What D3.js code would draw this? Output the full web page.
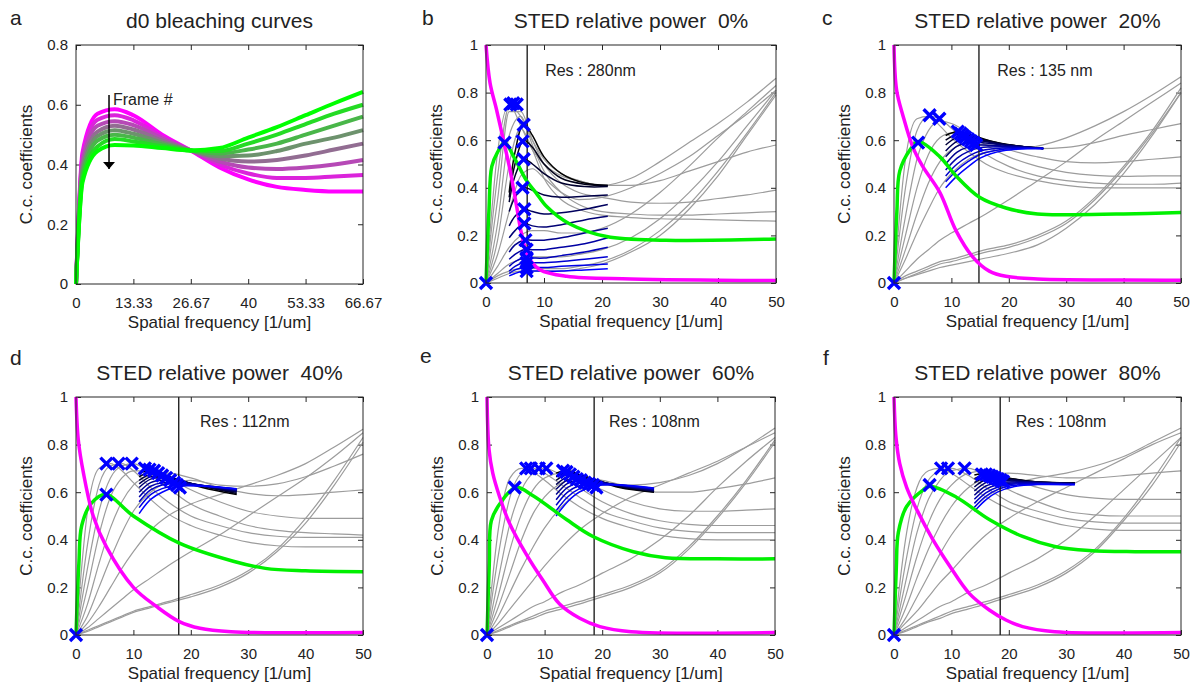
<!DOCTYPE html>
<html>
<head>
<meta charset="utf-8">
<script src="https://cdn.jsdelivr.net/npm/d3@7"></script>
<style>
body { margin: 0; background: #fff; }
svg text { font-family: "Liberation Sans", Arial, Helvetica, sans-serif; fill: #222; }
</style>
</head>
<body>
<svg id="chart" width="1192" height="688"></svg>
<script>
// ---- panel a : d0 bleaching curves ----
var aX = [0, 1.5, 5, 9, 13.33, 20, 26.67, 33.33, 40, 46.67, 53.33, 60, 66.67];
var aFrames = [
	[0, 0.44, 0.57, 0.585, 0.565, 0.50, 0.447, 0.39, 0.35, 0.325, 0.315, 0.31, 0.31],
	[0, 0.425, 0.55, 0.565, 0.548, 0.493, 0.447, 0.40, 0.37, 0.355, 0.355, 0.36, 0.365],
	[0, 0.41, 0.53, 0.545, 0.532, 0.487, 0.447, 0.41, 0.39, 0.385, 0.39, 0.40, 0.415],
	[0, 0.395, 0.51, 0.53, 0.517, 0.48, 0.447, 0.42, 0.41, 0.415, 0.43, 0.45, 0.47],
	[0, 0.38, 0.495, 0.515, 0.503, 0.473, 0.447, 0.428, 0.43, 0.445, 0.47, 0.49, 0.515],
	[0, 0.365, 0.48, 0.50, 0.49, 0.467, 0.447, 0.437, 0.45, 0.47, 0.50, 0.53, 0.56],
	[0, 0.35, 0.46, 0.485, 0.477, 0.461, 0.447, 0.445, 0.47, 0.50, 0.535, 0.57, 0.60],
	[0, 0.34, 0.445, 0.465, 0.464, 0.455, 0.447, 0.455, 0.49, 0.525, 0.565, 0.605, 0.643]
];
var aXTicks = [0, 13.33, 26.67, 40, 53.33, 66.67];
var aXTickLabels = ["0", "13.33", "26.67", "40", "53.33", "66.67"];
var aYTicks = [0, 0.2, 0.4, 0.6, 0.8];

// ---- panels b-f : STED relative power ----
var stedXTicks = [0, 10, 20, 30, 40, 50];
var stedYTicks = [0, 0.2, 0.4, 0.6, 0.8, 1];
var stedPowers = ["0%", "20%", "40%", "60%", "80%"];
var resFreq = [7.1, 14.8, 17.9, 18.6, 18.5];
var resLabels = ["Res : 280nm", "Res : 135 nm", "Res : 112nm", "Res : 108nm", "Res : 108nm"];

var grayX = [0, 2, 4, 6, 8, 10, 13, 16, 20, 25, 30, 35, 40, 45, 50];

var bGray = [
	[0, 0.55, 0.75, 0.66, 0.56, 0.50, 0.45, 0.43, 0.41, 0.44, 0.51, 0.59, 0.67, 0.76, 0.86],
	[0, 0.45, 0.74, 0.70, 0.60, 0.52, 0.46, 0.43, 0.41, 0.41, 0.43, 0.47, 0.51, 0.55, 0.58],
	[0, 0.35, 0.72, 0.72, 0.60, 0.50, 0.42, 0.38, 0.36, 0.34, 0.335, 0.34, 0.355, 0.37, 0.39],
	[0, 0.25, 0.62, 0.70, 0.58, 0.47, 0.38, 0.33, 0.30, 0.29, 0.285, 0.285, 0.29, 0.295, 0.30],
	[0, 0.18, 0.50, 0.65, 0.56, 0.44, 0.35, 0.31, 0.285, 0.275, 0.27, 0.268, 0.265, 0.262, 0.26],
	[0, 0.12, 0.30, 0.45, 0.48, 0.44, 0.38, 0.35, 0.36, 0.40, 0.46, 0.53, 0.62, 0.71, 0.81],
	[0, 0.07, 0.15, 0.20, 0.22, 0.22, 0.21, 0.21, 0.23, 0.29, 0.38, 0.49, 0.61, 0.72, 0.83],
	[0, 0.04, 0.08, 0.10, 0.11, 0.11, 0.11, 0.12, 0.14, 0.19, 0.27, 0.38, 0.51, 0.66, 0.81],
	[0, 0.03, 0.05, 0.06, 0.06, 0.06, 0.06, 0.07, 0.09, 0.14, 0.22, 0.33, 0.47, 0.63, 0.80],
	[0, 0.02, 0.04, 0.05, 0.05, 0.05, 0.05, 0.06, 0.08, 0.13, 0.20, 0.31, 0.45, 0.62, 0.79]
];
var cGray = [
	[0, 0.52, 0.69, 0.70, 0.66, 0.61, 0.55, 0.50, 0.46, 0.43, 0.41, 0.40, 0.40, 0.40, 0.40],
	[0, 0.40, 0.64, 0.70, 0.69, 0.65, 0.59, 0.54, 0.49, 0.45, 0.43, 0.42, 0.415, 0.415, 0.42],
	[0, 0.28, 0.52, 0.64, 0.68, 0.67, 0.63, 0.58, 0.53, 0.49, 0.465, 0.452, 0.448, 0.45, 0.45],
	[0, 0.20, 0.40, 0.54, 0.61, 0.63, 0.62, 0.60, 0.56, 0.53, 0.51, 0.505, 0.51, 0.52, 0.53],
	[0, 0.14, 0.29, 0.42, 0.51, 0.56, 0.585, 0.58, 0.57, 0.565, 0.57, 0.59, 0.62, 0.645, 0.67],
	[0, 0.10, 0.21, 0.31, 0.40, 0.46, 0.52, 0.55, 0.56, 0.575, 0.61, 0.66, 0.72, 0.79, 0.867],
	[0, 0.05, 0.10, 0.14, 0.18, 0.21, 0.25, 0.29, 0.35, 0.43, 0.51, 0.60, 0.68, 0.76, 0.84],
	[0, 0.03, 0.05, 0.07, 0.09, 0.10, 0.12, 0.14, 0.16, 0.20, 0.26, 0.36, 0.49, 0.64, 0.82],
	[0, 0.02, 0.04, 0.06, 0.08, 0.09, 0.11, 0.13, 0.15, 0.19, 0.25, 0.35, 0.48, 0.63, 0.80],
	[0, 0.02, 0.035, 0.05, 0.065, 0.075, 0.09, 0.105, 0.125, 0.16, 0.23, 0.33, 0.46, 0.62, 0.80]
];
var dGray = [
	[0, 0.52, 0.70, 0.72, 0.69, 0.64, 0.57, 0.51, 0.46, 0.42, 0.39, 0.375, 0.37, 0.37, 0.37],
	[0, 0.38, 0.63, 0.71, 0.72, 0.69, 0.62, 0.56, 0.50, 0.46, 0.43, 0.415, 0.41, 0.41, 0.41],
	[0, 0.28, 0.52, 0.66, 0.71, 0.72, 0.68, 0.62, 0.55, 0.50, 0.46, 0.44, 0.43, 0.425, 0.42],
	[0, 0.20, 0.42, 0.58, 0.66, 0.69, 0.69, 0.66, 0.61, 0.56, 0.52, 0.50, 0.49, 0.49, 0.49],
	[0, 0.13, 0.30, 0.45, 0.56, 0.63, 0.67, 0.68, 0.66, 0.62, 0.595, 0.585, 0.59, 0.60, 0.61],
	[0, 0.08, 0.20, 0.32, 0.43, 0.52, 0.60, 0.64, 0.65, 0.63, 0.625, 0.635, 0.665, 0.71, 0.76],
	[0, 0.05, 0.12, 0.20, 0.28, 0.35, 0.44, 0.50, 0.55, 0.59, 0.63, 0.67, 0.72, 0.79, 0.865],
	[0, 0.03, 0.07, 0.11, 0.15, 0.19, 0.24, 0.29, 0.35, 0.42, 0.50, 0.58, 0.66, 0.75, 0.85],
	[0, 0.02, 0.04, 0.06, 0.08, 0.10, 0.12, 0.14, 0.17, 0.21, 0.27, 0.36, 0.49, 0.65, 0.83],
	[0, 0.015, 0.035, 0.055, 0.075, 0.095, 0.115, 0.135, 0.16, 0.20, 0.26, 0.35, 0.47, 0.63, 0.81]
];
var eGray = [
	[0, 0.45, 0.66, 0.70, 0.685, 0.65, 0.59, 0.54, 0.49, 0.45, 0.42, 0.405, 0.40, 0.40, 0.40],
	[0, 0.34, 0.58, 0.68, 0.70, 0.68, 0.63, 0.58, 0.52, 0.48, 0.45, 0.435, 0.43, 0.43, 0.43],
	[0, 0.24, 0.47, 0.61, 0.68, 0.70, 0.67, 0.62, 0.56, 0.51, 0.48, 0.465, 0.46, 0.46, 0.46],
	[0, 0.17, 0.36, 0.51, 0.61, 0.66, 0.68, 0.66, 0.61, 0.56, 0.53, 0.52, 0.52, 0.525, 0.53],
	[0, 0.12, 0.26, 0.40, 0.51, 0.58, 0.64, 0.66, 0.65, 0.62, 0.60, 0.60, 0.615, 0.635, 0.66],
	[0, 0.08, 0.18, 0.28, 0.37, 0.45, 0.54, 0.60, 0.63, 0.63, 0.64, 0.67, 0.72, 0.79, 0.87],
	[0, 0.05, 0.11, 0.17, 0.23, 0.29, 0.37, 0.44, 0.51, 0.58, 0.63, 0.68, 0.73, 0.79, 0.85],
	[0, 0.03, 0.06, 0.09, 0.12, 0.14, 0.18, 0.21, 0.26, 0.32, 0.40, 0.50, 0.62, 0.73, 0.83],
	[0, 0.02, 0.04, 0.06, 0.08, 0.10, 0.12, 0.14, 0.17, 0.21, 0.27, 0.37, 0.50, 0.65, 0.82],
	[0, 0.015, 0.035, 0.055, 0.07, 0.09, 0.11, 0.13, 0.16, 0.20, 0.26, 0.36, 0.49, 0.64, 0.81]
];
var fGray = [
	[0, 0.40, 0.62, 0.69, 0.70, 0.68, 0.63, 0.58, 0.53, 0.49, 0.46, 0.445, 0.44, 0.44, 0.44],
	[0, 0.30, 0.53, 0.65, 0.69, 0.70, 0.67, 0.62, 0.56, 0.52, 0.49, 0.475, 0.47, 0.47, 0.47],
	[0, 0.22, 0.43, 0.57, 0.65, 0.69, 0.70, 0.67, 0.61, 0.56, 0.52, 0.505, 0.50, 0.50, 0.50],
	[0, 0.16, 0.33, 0.47, 0.57, 0.63, 0.68, 0.69, 0.66, 0.62, 0.59, 0.575, 0.57, 0.57, 0.57],
	[0, 0.11, 0.24, 0.36, 0.46, 0.54, 0.62, 0.66, 0.68, 0.67, 0.66, 0.66, 0.67, 0.68, 0.69],
	[0, 0.07, 0.16, 0.25, 0.34, 0.42, 0.51, 0.58, 0.63, 0.66, 0.68, 0.71, 0.75, 0.81, 0.87],
	[0, 0.05, 0.10, 0.16, 0.22, 0.27, 0.35, 0.42, 0.49, 0.56, 0.62, 0.68, 0.74, 0.80, 0.85],
	[0, 0.03, 0.06, 0.09, 0.12, 0.14, 0.18, 0.21, 0.26, 0.32, 0.40, 0.50, 0.61, 0.72, 0.83],
	[0, 0.02, 0.04, 0.06, 0.08, 0.10, 0.12, 0.14, 0.17, 0.21, 0.27, 0.36, 0.49, 0.65, 0.83],
	[0, 0.015, 0.035, 0.055, 0.07, 0.09, 0.11, 0.13, 0.16, 0.20, 0.26, 0.35, 0.48, 0.63, 0.81]
];

// dark (black -> blue) curves, top to bottom
var bBlueX = [4, 5, 6.5, 8, 10, 13, 17, 21];
var bBlue = [
	[0.38, 0.55, 0.67, 0.62, 0.53, 0.46, 0.42, 0.41],
	[0.36, 0.50, 0.60, 0.57, 0.50, 0.44, 0.415, 0.41],
	[0.34, 0.45, 0.52, 0.50, 0.46, 0.42, 0.405, 0.405],
	[0.30, 0.36, 0.40, 0.39, 0.37, 0.36, 0.365, 0.37],
	[0.24, 0.28, 0.31, 0.30, 0.29, 0.295, 0.31, 0.33],
	[0.19, 0.22, 0.25, 0.24, 0.235, 0.245, 0.265, 0.28],
	[0.13, 0.16, 0.18, 0.18, 0.18, 0.19, 0.21, 0.23],
	[0.10, 0.12, 0.14, 0.14, 0.14, 0.15, 0.165, 0.19],
	[0.07, 0.09, 0.105, 0.105, 0.105, 0.115, 0.13, 0.15],
	[0.05, 0.07, 0.085, 0.085, 0.085, 0.09, 0.10, 0.11],
	[0.04, 0.055, 0.065, 0.065, 0.065, 0.07, 0.075, 0.08],
	[0.03, 0.04, 0.05, 0.05, 0.05, 0.05, 0.055, 0.06]
];
var cBlueX = [9, 11, 13, 15, 19, 26];
var cBlue = [
	[0.62, 0.635, 0.625, 0.61, 0.585, 0.565],
	[0.60, 0.625, 0.62, 0.607, 0.584, 0.565],
	[0.58, 0.612, 0.613, 0.603, 0.583, 0.565],
	[0.555, 0.595, 0.603, 0.598, 0.582, 0.565],
	[0.53, 0.575, 0.59, 0.59, 0.58, 0.565],
	[0.50, 0.55, 0.572, 0.58, 0.576, 0.565],
	[0.475, 0.525, 0.553, 0.568, 0.572, 0.565],
	[0.45, 0.50, 0.533, 0.555, 0.567, 0.565],
	[0.425, 0.475, 0.512, 0.54, 0.562, 0.565],
	[0.40, 0.45, 0.49, 0.525, 0.556, 0.565]
];
var dBlueX = [11, 13, 15, 18, 22, 28];
var dBlue = [
	[0.68, 0.69, 0.675, 0.65, 0.62, 0.59],
	[0.665, 0.685, 0.675, 0.65, 0.625, 0.595],
	[0.65, 0.675, 0.67, 0.65, 0.625, 0.60],
	[0.635, 0.665, 0.665, 0.648, 0.627, 0.603],
	[0.62, 0.655, 0.66, 0.645, 0.628, 0.606],
	[0.60, 0.64, 0.65, 0.642, 0.628, 0.608],
	[0.58, 0.625, 0.64, 0.638, 0.628, 0.61],
	[0.56, 0.61, 0.63, 0.635, 0.628, 0.612],
	[0.535, 0.59, 0.615, 0.63, 0.627, 0.613],
	[0.51, 0.57, 0.60, 0.625, 0.625, 0.615]
];
var eBlueX = [12, 14, 16, 19, 23, 29];
var eBlue = [
	[0.68, 0.69, 0.675, 0.65, 0.62, 0.60],
	[0.665, 0.683, 0.673, 0.65, 0.623, 0.602],
	[0.65, 0.675, 0.67, 0.65, 0.625, 0.604],
	[0.632, 0.665, 0.665, 0.648, 0.627, 0.606],
	[0.612, 0.652, 0.658, 0.646, 0.628, 0.608],
	[0.59, 0.637, 0.65, 0.643, 0.629, 0.61],
	[0.568, 0.62, 0.64, 0.64, 0.63, 0.612],
	[0.545, 0.60, 0.627, 0.636, 0.63, 0.614],
	[0.522, 0.58, 0.614, 0.632, 0.63, 0.616],
	[0.50, 0.56, 0.60, 0.627, 0.63, 0.618]
];
var fBlueX = [14, 16, 18, 21, 25, 31.5];
var fBlue = [
	[0.672, 0.68, 0.67, 0.655, 0.643, 0.64],
	[0.657, 0.673, 0.667, 0.654, 0.643, 0.639],
	[0.64, 0.664, 0.662, 0.652, 0.643, 0.638],
	[0.622, 0.653, 0.656, 0.65, 0.642, 0.637],
	[0.605, 0.64, 0.649, 0.647, 0.641, 0.636],
	[0.587, 0.626, 0.64, 0.643, 0.64, 0.635],
	[0.57, 0.612, 0.631, 0.639, 0.638, 0.634],
	[0.553, 0.597, 0.621, 0.634, 0.636, 0.633],
	[0.537, 0.583, 0.611, 0.629, 0.634, 0.632],
	[0.52, 0.568, 0.60, 0.624, 0.632, 0.631]
];

// magenta and green curves
var bMagX = [0, 0.7, 1.8, 3, 4.1, 5.3, 6.1, 7.3, 9.3, 13.9, 25, 50];
var bMagY = [1, 0.84, 0.73, 0.6, 0.48, 0.32, 0.21, 0.11, 0.056, 0.028, 0.017, 0.01];
var bGreenX = [0, 0.5, 1, 2, 3.2, 5, 7, 8.6, 10.5, 14.3, 20.8, 31, 50];
var bGreenY = [0, 0.3, 0.49, 0.55, 0.59, 0.52, 0.43, 0.38, 0.32, 0.25, 0.195, 0.18, 0.185];
var cMagX = [0, 0.46, 1.6, 3.3, 5, 8, 10.8, 13.7, 16.6, 19.5, 25, 50];
var cMagY = [1, 0.81, 0.70, 0.57, 0.49, 0.38, 0.22, 0.11, 0.05, 0.028, 0.017, 0.012];
var cGreenX = [0, 0.5, 1, 2.8, 4.2, 8, 10.8, 14.9, 19.5, 25, 31, 40, 50];
var cGreenY = [0, 0.3, 0.47, 0.56, 0.594, 0.53, 0.45, 0.36, 0.315, 0.29, 0.287, 0.29, 0.296];
var dMagX = [0, 0.4, 1.3, 3, 5.3, 10, 14, 18, 21.6, 27, 50];
var dMagY = [1, 0.82, 0.68, 0.50, 0.37, 0.20, 0.12, 0.056, 0.028, 0.014, 0.01];
var dGreenX = [0, 0.5, 1, 2.7, 5.2, 10, 18, 27.4, 33, 40, 50];
var dGreenY = [0, 0.3, 0.46, 0.554, 0.59, 0.50, 0.386, 0.31, 0.28, 0.27, 0.266];
var eMagX = [0, 0.35, 1, 2.2, 3.9, 6.8, 9.7, 12.6, 16.1, 19.6, 25, 50];
var eMagY = [1, 0.78, 0.68, 0.58, 0.47, 0.34, 0.23, 0.13, 0.07, 0.035, 0.014, 0.01];
var eGreenX = [0, 0.4, 0.75, 2.2, 5, 8, 13.8, 18.4, 25.4, 31, 40, 50];
var eGreenY = [0, 0.3, 0.48, 0.55, 0.62, 0.585, 0.485, 0.414, 0.35, 0.325, 0.32, 0.32];
var fMagX = [0, 0.35, 1, 2.2, 3.9, 6.8, 9.7, 13.1, 16.6, 19.5, 22.4, 28, 50];
var fMagY = [1, 0.83, 0.72, 0.62, 0.53, 0.40, 0.29, 0.175, 0.105, 0.063, 0.035, 0.014, 0.01];
var fGreenX = [0, 0.4, 0.75, 2.2, 5.1, 6.3, 10.8, 16.6, 22.4, 28, 34, 42, 50];
var fGreenY = [0, 0.28, 0.43, 0.54, 0.61, 0.625, 0.58, 0.485, 0.414, 0.372, 0.355, 0.35, 0.35];

// blue x markers
var bMarkX = [0, 3.2, 4.2, 4.7, 5.3, 6.5, 6.3, 6.5, 6.3, 6.6, 6.6, 6.8, 7, 7, 7, 7, 7];
var bMarkY = [0, 0.59, 0.75, 0.755, 0.75, 0.665, 0.595, 0.52, 0.40, 0.31, 0.25, 0.18, 0.14, 0.105, 0.085, 0.065, 0.05];
var cMarkX = [0, 4.2, 6.2, 7.9, 11.1, 11.6, 12.0, 12.4, 12.9, 13.4, 13.9, 14.3];
var cMarkY = [0, 0.59, 0.705, 0.69, 0.636, 0.628, 0.62, 0.612, 0.604, 0.596, 0.588, 0.58];
var dMarkX = [0, 5.3, 5.3, 7.4, 9.7, 12, 12.8, 13.6, 14.3, 15, 15.7, 16.4, 17.1, 17.6, 18.1];
var dMarkY = [0, 0.59, 0.72, 0.72, 0.72, 0.70, 0.695, 0.69, 0.68, 0.67, 0.66, 0.65, 0.64, 0.63, 0.62];
var eMarkX = [0, 4.8, 6.8, 7.6, 9.0, 10.3, 13.2, 13.8, 14.4, 15, 15.6, 16.3, 17, 17.7, 18.4, 19];
var eMarkY = [0, 0.62, 0.70, 0.70, 0.70, 0.70, 0.69, 0.685, 0.675, 0.665, 0.655, 0.65, 0.64, 0.635, 0.63, 0.62];
var fMarkX = [0, 6.2, 8.2, 9.4, 12.3, 15.3, 16, 16.6, 17.1, 17.6, 18.1, 18.6, 19];
var fMarkY = [0, 0.63, 0.70, 0.70, 0.70, 0.675, 0.675, 0.67, 0.665, 0.66, 0.655, 0.65, 0.645];

var svg = d3.select('#chart');

function zipXY(xs, ys){
	return xs.map(function(x, i){ return [x, ys[i]]; });
};

function makeFrame(box, xDomain, yDomain, xTicks, xLabels, yTicks){
	var w = box[2] - box[0], h = box[3] - box[1];
	var g = svg.append('g').attr('transform', 'translate(' + box[0] + ',' + box[1] + ')');
	var x = d3.scaleLinear().domain(xDomain).range([0, w]);
	var y = d3.scaleLinear().domain(yDomain).range([h, 0]);

	var bottom = g.append('g')
			.attr('transform', 'translate(0,' + h + ')')
			.call(d3.axisBottom(x).tickValues(xTicks).tickSizeInner(-5).tickSizeOuter(0).tickPadding(13)
				.tickFormat(function(d, i){ return xLabels[i]; }));
	var left = g.append('g')
			.call(d3.axisLeft(y).tickValues(yTicks).tickSizeInner(-5).tickSizeOuter(0).tickPadding(8)
				.tickFormat(d3.format('~g')));
	var top = g.append('g')
			.call(d3.axisTop(x).tickValues(xTicks).tickSizeInner(-5).tickSizeOuter(0).tickFormat(''));
	var right = g.append('g')
			.attr('transform', 'translate(' + w + ',0)')
			.call(d3.axisRight(y).tickValues(yTicks).tickSizeInner(-5).tickSizeOuter(0).tickFormat(''));

	[bottom, left, top, right].forEach(function(a){
		a.select('.domain').remove();
		a.selectAll('line').attr('stroke', '#262626');
		a.selectAll('text').style('font-size', '15px').attr('fill', '#222');
	});

	var plot = g.append('g');

	g.append('rect')
		.attr('width', w).attr('height', h)
		.attr('fill', 'none').attr('stroke', '#262626').attr('stroke-width', 1);

	g.append('text')
		.attr('x', w / 2).attr('y', h + 44)
		.attr('text-anchor', 'middle')
		.style('font-size', '17px')
		.text('Spatial frequency [1/um]');

	g.append('text')
		.attr('transform', 'translate(-44,' + h / 2 + ') rotate(-90)')
		.attr('text-anchor', 'middle')
		.style('font-size', '17px')
		.text('C.c. coefficients');

	return {g: g, plot: plot, x: x, y: y, w: w, h: h};
};

function addTitle(f, title, letter, lx, ly){
	f.g.append('text')
		.attr('x', f.w / 2).attr('y', -17)
		.attr('text-anchor', 'middle')
		.attr('xml:space', 'preserve')
		.style('white-space', 'pre')
		.style('font-size', '21px')
		.attr('fill', '#111')
		.text(title);
	svg.append('text')
		.attr('x', lx).attr('y', ly)
		.style('font-size', '21px')
		.attr('fill', '#111')
		.text(letter);
};

// ---- panel a ----
var fa = makeFrame([76, 45, 363, 284], [0, 66.67], [0, 0.8], aXTicks, aXTickLabels, aYTicks);
addTitle(fa, 'd0 bleaching curves', 'a', 10, 25);

var frameColor = d3.interpolateRgb('#ff00ff', '#00ff00');
var aLine = d3.line()
		.x(function(d){ return fa.x(d[0]); })
		.y(function(d){ return fa.y(d[1]); })
		.curve(d3.curveMonotoneX);

fa.plot.selectAll('path.frame')
		.data(aFrames)
		.enter()
		.append('path')
		.attr('class', 'frame')
		.attr('d', function(d){ return aLine(zipXY(aX, d)); })
		.attr('fill', 'none')
		.attr('stroke-width', 4)
		.attr('stroke', function(d, i){ return frameColor(i / (aFrames.length - 1)); });

// frame # arrow
fa.g.append('defs').append('marker')
		.attr('id', 'arrowhead')
		.attr('viewBox', '0 0 10 10')
		.attr('refX', 10).attr('refY', 5)
		.attr('markerWidth', 7).attr('markerHeight', 12)
		.attr('markerUnits', 'userSpaceOnUse')
		.attr('orient', 'auto')
		.attr('preserveAspectRatio', 'none')
		.append('path').attr('d', 'M0,0L10,5L0,10Z').attr('fill', '#000');
fa.g.append('line')
		.attr('x1', fa.x(7.67)).attr('x2', fa.x(7.67))
		.attr('y1', fa.y(0.633)).attr('y2', fa.y(0.385))
		.attr('stroke', '#000').attr('stroke-width', 1.5)
		.attr('marker-end', 'url(#arrowhead)');
fa.g.append('text')
		.attr('x', fa.x(7.67) + 4).attr('y', fa.y(0.6))
		.style('font-size', '16px')
		.text('Frame #');

// ---- panels b-f ----
var stedPanels = [
	{box: [486, 45, 776, 283], letter: 'b', lx: 422, ly: 25, gray: bGray, blueX: bBlueX, blue: bBlue,
		mag: zipXY(bMagX, bMagY), green: zipXY(bGreenX, bGreenY), marks: zipXY(bMarkX, bMarkY), resAt: [10.2, 0.87]},
	{box: [894, 45, 1181, 283], letter: 'c', lx: 822, ly: 25, gray: cGray, blueX: cBlueX, blue: cBlue,
		mag: zipXY(cMagX, cMagY), green: zipXY(cGreenX, cGreenY), marks: zipXY(cMarkX, cMarkY), resAt: [18, 0.87]},
	{box: [76, 397, 363, 635], letter: 'd', lx: 10, ly: 365, gray: dGray, blueX: dBlueX, blue: dBlue,
		mag: zipXY(dMagX, dMagY), green: zipXY(dGreenX, dGreenY), marks: zipXY(dMarkX, dMarkY), resAt: [21.6, 0.875]},
	{box: [487, 397, 775, 635], letter: 'e', lx: 420, ly: 363, gray: eGray, blueX: eBlueX, blue: eBlue,
		mag: zipXY(eMagX, eMagY), green: zipXY(eGreenX, eGreenY), marks: zipXY(eMarkX, eMarkY), resAt: [21.2, 0.875]},
	{box: [894, 397, 1181, 635], letter: 'f', lx: 823, ly: 365, gray: fGray, blueX: fBlueX, blue: fBlue,
		mag: zipXY(fMagX, fMagY), green: zipXY(fGreenX, fGreenY), marks: zipXY(fMarkX, fMarkY), resAt: [21.2, 0.875]}
];

var blueColor = d3.interpolateRgb('#000000', '#0000ff');

stedPanels.forEach(function(p, k){
	var f = makeFrame(p.box, [0, 50], [0, 1], stedXTicks, stedXTicks.map(String), stedYTicks);
	addTitle(f, 'STED relative power  ' + stedPowers[k], p.letter, p.lx, p.ly);

	var line = d3.line()
			.x(function(d){ return f.x(d[0]); })
			.y(function(d){ return f.y(d[1]); })
			.curve(d3.curveMonotoneX);
	var smooth = d3.line()
			.x(function(d){ return f.x(d[0]); })
			.y(function(d){ return f.y(d[1]); })
			.curve(d3.curveCatmullRom.alpha(0.5));

	f.plot.selectAll('path.gray')
			.data(p.gray)
			.enter()
			.append('path')
			.attr('class', 'gray')
			.attr('d', function(d){ return line(zipXY(grayX, d)); })
			.attr('fill', 'none')
			.attr('stroke', '#9c9c9c')
			.attr('stroke-width', 1.2);

	f.plot.selectAll('path.blue')
			.data(p.blue)
			.enter()
			.append('path')
			.attr('class', 'blue')
			.attr('d', function(d){ return smooth(zipXY(p.blueX, d)); })
			.attr('fill', 'none')
			.attr('stroke', function(d, i){ return blueColor(i / (p.blue.length - 1)); })
			.attr('stroke-width', 1.5);

	f.plot.append('line')
			.attr('x1', f.x(resFreq[k])).attr('x2', f.x(resFreq[k]))
			.attr('y1', f.y(0)).attr('y2', f.y(1))
			.attr('stroke', '#111').attr('stroke-width', 1.3);

	f.plot.append('path')
			.attr('d', smooth(p.green))
			.attr('fill', 'none').attr('stroke', '#00f000').attr('stroke-width', 3.5);

	f.plot.append('path')
			.attr('d', smooth(p.mag))
			.attr('fill', 'none').attr('stroke', '#ff00ff').attr('stroke-width', 3.5);

	f.plot.selectAll('path.mark')
			.data(p.marks)
			.enter()
			.append('path')
			.attr('class', 'mark')
			.attr('transform', function(d){ return 'translate(' + f.x(d[0]) + ',' + f.y(d[1]) + ')'; })
			.attr('d', 'M-6,-6L6,6M-6,6L6,-6')
			.attr('stroke', '#0000ff')
			.attr('stroke-width', 3.4);

	f.g.append('text')
			.attr('x', f.x(p.resAt[0])).attr('y', f.y(p.resAt[1]))
			.style('font-size', '16px')
			.text(resLabels[k]);
});
</script>
</body>
</html>
